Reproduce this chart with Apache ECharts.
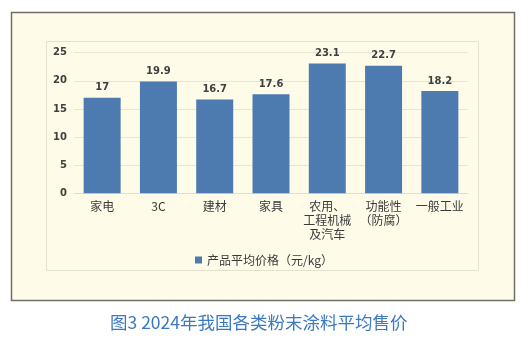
<!DOCTYPE html>
<html>
<head>
<meta charset="utf-8">
<script src="https://cdn.jsdelivr.net/npm/echarts@6/dist/echarts.min.js"></script>
<style>
  html, body { margin: 0; padding: 0; background: #ffffff; }
  #chart { width: 528px; height: 348px; }
</style>
</head>
<body>
<div id="chart"></div>
<script>
// 各类粉末涂料产品平均价格（元/kg）
const categories = ['家电', '3C', '建材', '家具', '农用、\n工程机械\n及汽车', '功能性\n（防腐）', '一般工业'];
const avgPrice = [17, 19.9, 16.7, 17.6, 23.1, 22.7, 18.2];
const seriesName = '产品平均价格（元/kg）';
const caption = '图3 2024年我国各类粉末涂料平均售价';

const cjk = '"Noto Sans CJK SC", "Noto Sans", sans-serif';
const chart = echarts.init(document.getElementById('chart'), null, { renderer: 'canvas' });

chart.setOption({
  backgroundColor: '#ffffff',
  animation: false,
  graphic: [
    {
      type: 'rect', z: -10,
      shape: { x: 11.5, y: 12.5, width: 503, height: 288 },
      style: { fill: '#fefce9', stroke: '#6f6f66', lineWidth: 1.5 }
    },
    {
      type: 'rect', z: -9,
      shape: { x: 46.5, y: 41.5, width: 432, height: 229 },
      style: { fill: 'none', stroke: '#e3e2cf', lineWidth: 1 }
    }
  ],
  title: {
    text: caption,
    left: 105,
    top: 309,
    textStyle: { color: '#3b79c3', fontSize: 17.5, fontWeight: 'normal', fontFamily: cjk }
  },
  legend: {
    data: [seriesName],
    left: 'center',
    top: 249,
    itemWidth: 7,
    itemHeight: 7,
    itemGap: 4,
    icon: 'rect',
    textStyle: { color: '#3a3a3a', fontSize: 12, fontFamily: cjk }
  },
  grid: { left: 74, right: 60, top: 52.7, bottom: 154.7, containLabel: false },
  xAxis: {
    type: 'category',
    data: categories,
    axisLine: { show: true, lineStyle: { color: '#e0dfcc' } },
    axisTick: { show: false },
    axisLabel: { color: '#3a3a3a', fontSize: 12, lineHeight: 14, margin: 6, fontFamily: cjk, interval: 0 }
  },
  yAxis: {
    type: 'value',
    min: 0, max: 25, interval: 5,
    axisLine: { show: false },
    axisTick: { show: false },
    splitLine: { lineStyle: { color: '#e8e6d2', width: 1 } },
    axisLabel: { color: '#404040', fontSize: 10, fontWeight: 'bold', margin: 7, fontFamily: 'Verdana, "DejaVu Sans", sans-serif' }
  },
  series: [{
    name: seriesName,
    type: 'bar',
    data: avgPrice,
    barWidth: 37,
    itemStyle: { color: '#4d7bb0' },
    label: {
      show: true,
      position: 'top',
      distance: 5,
      color: '#404040',
      fontSize: 10,
      fontWeight: 'bold',
      fontFamily: 'Verdana, "DejaVu Sans", sans-serif'
    }
  }]
});
</script>
</body>
</html>
